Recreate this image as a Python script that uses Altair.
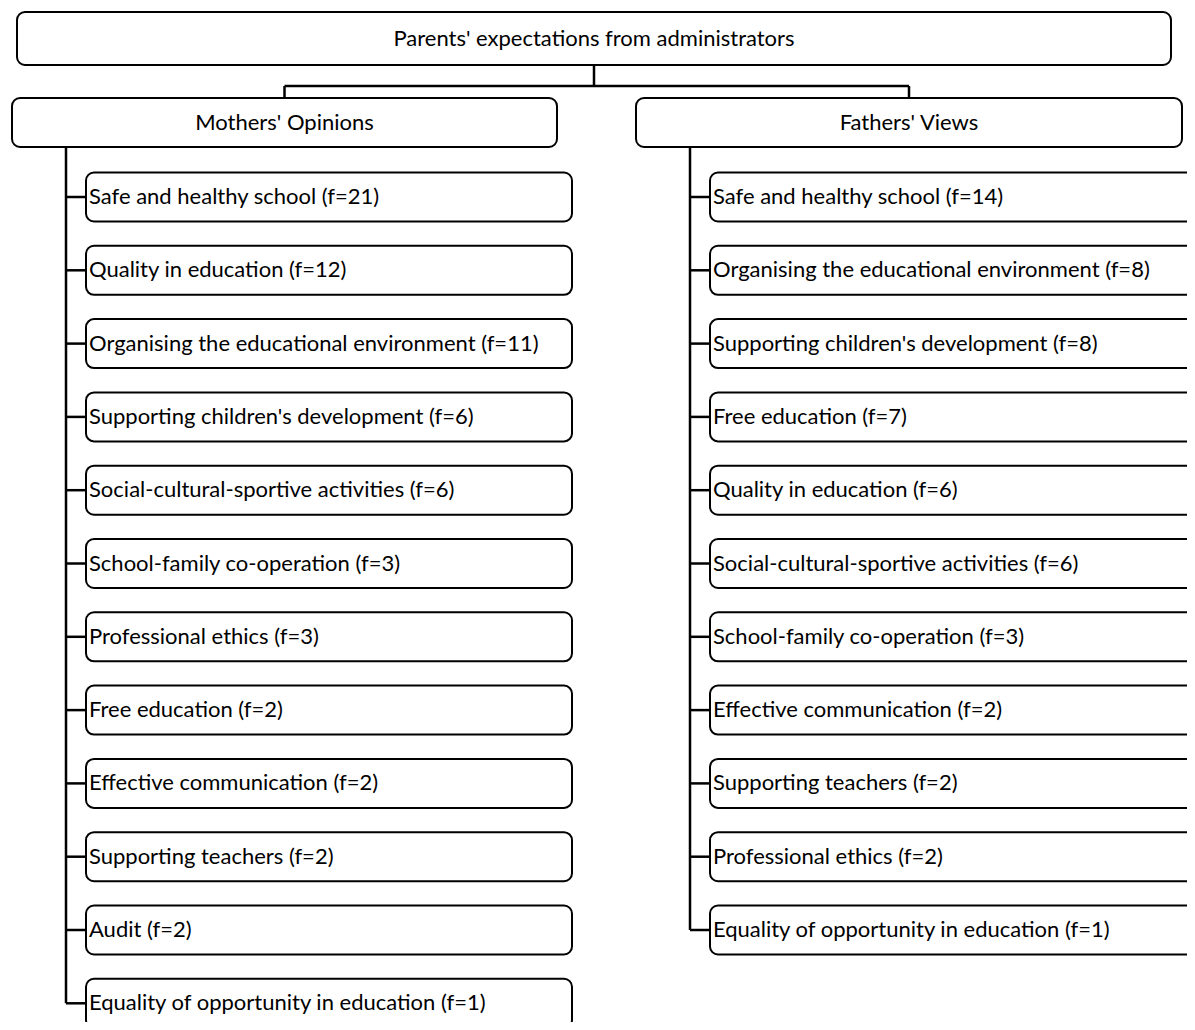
import altair as alt
import pandas as pd

# ---------------- data ----------------
root_label = "Parents' expectations from administrators"
group_labels = ["Mothers' Opinions", "Fathers' Views"]

mothers_items = [
    "Safe and healthy school",
    "Quality in education",
    "Organising the educational environment",
    "Supporting children's development",
    "Social-cultural-sportive activities",
    "School-family co-operation",
    "Professional ethics",
    "Free education",
    "Effective communication",
    "Supporting teachers",
    "Audit",
    "Equality of opportunity in education",
]
mothers_f = [21, 12, 11, 6, 6, 3, 3, 2, 2, 2, 2, 1]

fathers_items = [
    "Safe and healthy school",
    "Organising the educational environment",
    "Supporting children's development",
    "Free education",
    "Quality in education",
    "Social-cultural-sportive activities",
    "School-family co-operation",
    "Effective communication",
    "Supporting teachers",
    "Professional ethics",
    "Equality of opportunity in education",
]
fathers_f = [14, 8, 8, 7, 6, 6, 3, 2, 2, 2, 1]

# ---------------- layout (tree geometry) ----------------
ROOT = dict(x=17, x2=1171, y=12, y2=65)
GROUP_BOXES = [dict(x=12, x2=557, y=98, y2=147), dict(x=636, x2=1182, y=98, y2=147)]
BRANCH_Y = 86
TRUNK_OFFSET = 54
CHILD_OFFSET = 20
CHILD_W = 486
ROW0 = 197
ROW_STEP = 73.3
HALF_H = 24.5
FONT = "Lato"
FS = 22

boxes, rules, ctext, ltext = [], [], [], []

boxes.append(ROOT)
ctext.append(dict(x=(ROOT["x"] + ROOT["x2"]) / 2, y=(ROOT["y"] + ROOT["y2"]) / 2, label=root_label))
root_cx = 594
rules.append(dict(x=root_cx, x2=root_cx, y=ROOT["y2"], y2=BRANCH_Y))
centers = [(g["x"] + g["x2"]) / 2 for g in GROUP_BOXES]
rules.append(dict(x=centers[0], x2=centers[1], y=BRANCH_Y, y2=BRANCH_Y))

for g, lab, items, fs, cx in zip(GROUP_BOXES, group_labels,
                                 [mothers_items, fathers_items],
                                 [mothers_f, fathers_f], centers):
    boxes.append(g)
    rules.append(dict(x=cx, x2=cx, y=BRANCH_Y, y2=g["y"]))
    ctext.append(dict(x=cx, y=(g["y"] + g["y2"]) / 2, label=lab))
    trunk = g["x"] + TRUNK_OFFSET
    cl = trunk + CHILD_OFFSET
    last_mid = ROW0 + (len(items) - 1) * ROW_STEP
    rules.append(dict(x=trunk, x2=trunk, y=g["y2"], y2=last_mid))
    for i, (name, f) in enumerate(zip(items, fs)):
        mid = ROW0 + i * ROW_STEP
        boxes.append(dict(x=cl, x2=cl + CHILD_W, y=mid - HALF_H, y2=mid + HALF_H))
        rules.append(dict(x=trunk, x2=cl, y=mid, y2=mid))
        ltext.append(dict(x=cl + 3, y=mid, label=f"{name} (f={f})"))

df_boxes = pd.DataFrame(boxes)
df_rules = pd.DataFrame(rules)
df_ctext = pd.DataFrame(ctext)
df_ltext = pd.DataFrame(ltext)

xs = alt.Scale(domain=[8, 1187], nice=False, zero=False)
ys = alt.Scale(domain=[8, 1022], nice=False, zero=False, reverse=True)

rule_layer = alt.Chart(df_rules).mark_rule(color="black", strokeWidth=2.5).encode(
    x=alt.X("x:Q", scale=xs, axis=None),
    x2="x2:Q",
    y=alt.Y("y:Q", scale=ys, axis=None),
    y2="y2:Q",
)

box_layer = alt.Chart(df_boxes).mark_rect(
    fill="white", stroke="black", strokeWidth=2, cornerRadius=8
).encode(
    x=alt.X("x:Q", scale=xs, axis=None),
    x2="x2:Q",
    y=alt.Y("y:Q", scale=ys, axis=None),
    y2="y2:Q",
)

ctext_layer = alt.Chart(df_ctext).mark_text(
    align="center", baseline="middle", font=FONT, fontSize=FS, color="black"
).encode(
    x=alt.X("x:Q", scale=xs, axis=None),
    y=alt.Y("y:Q", scale=ys, axis=None),
    text="label:N",
)

ltext_layer = alt.Chart(df_ltext).mark_text(
    align="left", baseline="middle", font=FONT, fontSize=FS, color="black"
).encode(
    x=alt.X("x:Q", scale=xs, axis=None),
    y=alt.Y("y:Q", scale=ys, axis=None),
    text="label:N",
)

chart = alt.layer(rule_layer, box_layer, ctext_layer, ltext_layer).properties(
    width=1179, height=1014, padding=0, autosize="none", background="white"
).configure_view(stroke=None)

chart.save("out.html", embed_options={"renderer": "svg", "actions": False})
